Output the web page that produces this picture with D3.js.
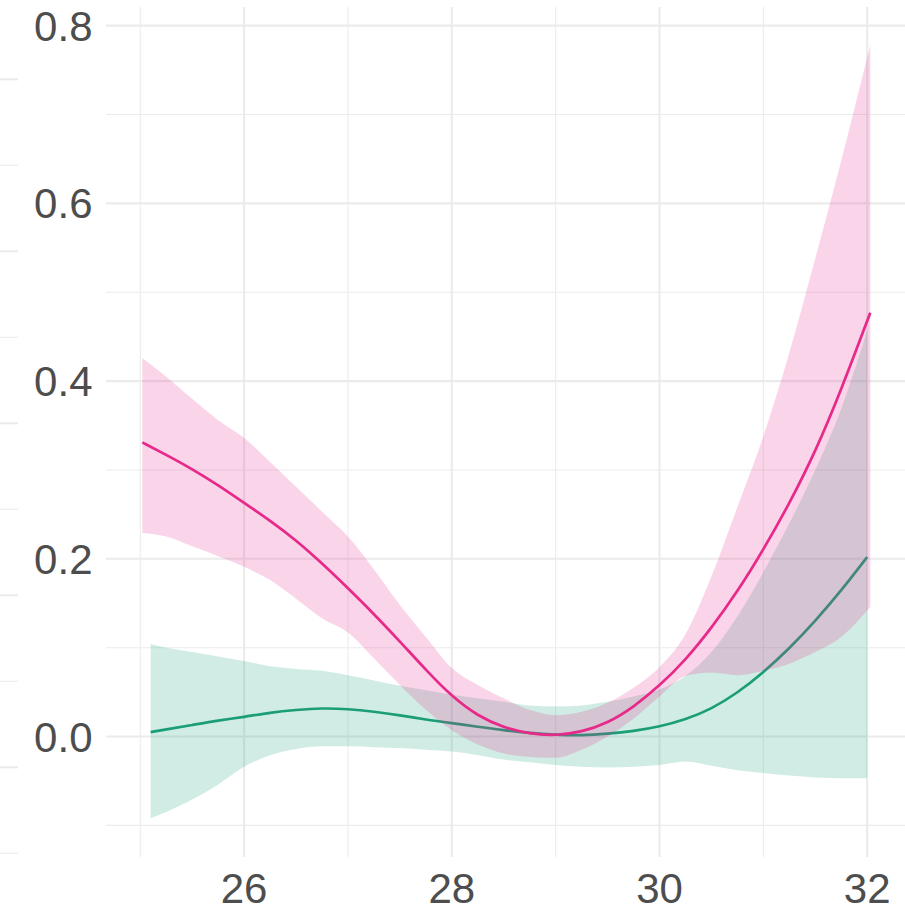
<!DOCTYPE html>
<html>
<head>
<meta charset="utf-8">
<script src="https://cdn.jsdelivr.net/npm/d3@7"></script>
<style>
  html, body { margin: 0; padding: 0; background: #ffffff; }
  svg { display: block; }
</style>
</head>
<body>
<script>
// ---------- data ----------
const xTicksMajor = [26, 28, 30, 32];
const xTicksMinor = [25, 27, 29, 31];
const yTicksMajor = [0.0, 0.2, 0.4, 0.6, 0.8];
const yTicksMinor = [-0.1, 0.1, 0.3, 0.5, 0.7];
const yTickLabels = ["0.0", "0.2", "0.4", "0.6", "0.8"];
const xTickLabels = ["26", "28", "30", "32"];

// magenta series
const xPink = [25.02, 25.25, 25.5, 25.75, 26.0, 26.25, 26.5, 26.75, 27.0, 27.25, 27.5, 27.75, 28.0, 28.25, 28.5, 28.75, 29.0, 29.25, 29.5, 29.75, 30.0, 30.25, 30.5, 30.75, 31.0, 31.25, 31.5, 31.75, 32.03];
const fitPink = [0.331, 0.317, 0.301, 0.283, 0.263, 0.243, 0.221, 0.195, 0.167, 0.138, 0.107, 0.075, 0.045, 0.023, 0.010, 0.003, 0.001, 0.005, 0.015, 0.033, 0.057, 0.086, 0.122, 0.163, 0.210, 0.262, 0.320, 0.390, 0.477];
const upperPink = [0.426, 0.405, 0.380, 0.356, 0.336, 0.309, 0.281, 0.253, 0.225, 0.188, 0.148, 0.112, 0.077, 0.058, 0.043, 0.030, 0.024, 0.028, 0.038, 0.055, 0.078, 0.115, 0.180, 0.258, 0.338, 0.432, 0.538, 0.648, 0.778];
const lowerPink = [0.229, 0.225, 0.214, 0.203, 0.191, 0.176, 0.155, 0.133, 0.117, 0.088, 0.058, 0.030, 0.007, -0.009, -0.019, -0.023, -0.024, -0.015, 0.000, 0.020, 0.045, 0.068, 0.072, 0.069, 0.074, 0.082, 0.095, 0.112, 0.146];

// green series
const xGreen = [25.1, 25.25, 25.5, 25.75, 26.0, 26.25, 26.5, 26.75, 27.0, 27.25, 27.5, 27.75, 28.0, 28.25, 28.5, 28.75, 29.0, 29.25, 29.5, 29.75, 30.0, 30.25, 30.5, 30.75, 31.0, 31.25, 31.5, 31.75, 32.0];
const fitGreen = [0.005, 0.008, 0.013, 0.018, 0.022, 0.027, 0.030, 0.032, 0.031, 0.028, 0.024, 0.019, 0.015, 0.011, 0.007, 0.004, 0.002, 0.001, 0.003, 0.006, 0.011, 0.019, 0.031, 0.049, 0.072, 0.099, 0.130, 0.164, 0.202];
const upperGreen = [0.104, 0.100, 0.095, 0.090, 0.085, 0.079, 0.076, 0.074, 0.069, 0.063, 0.057, 0.052, 0.047, 0.043, 0.039, 0.035, 0.034, 0.035, 0.039, 0.045, 0.053, 0.068, 0.095, 0.135, 0.185, 0.240, 0.300, 0.369, 0.457];
const lowerGreen = [-0.092, -0.085, -0.071, -0.054, -0.034, -0.021, -0.014, -0.011, -0.011, -0.012, -0.013, -0.015, -0.017, -0.021, -0.026, -0.029, -0.032, -0.034, -0.035, -0.034, -0.032, -0.028, -0.033, -0.038, -0.041, -0.044, -0.046, -0.047, -0.047];

// neighbouring panel grid stubs (left edge, cropped)
const ghostTicks = [0, 1, 2, 3, 4, 5, 6, 7, 8, 9];

// ---------- layout ----------
const W = 905, H = 907;
const panel = { left: 106, right: 905.6, top: 7, bottom: 857 };

const x = d3.scaleLinear().domain([24.67, 32.37]).range([panel.left, panel.right]);
const y = d3.scaleLinear().domain([-0.1356, 0.821]).range([panel.bottom, panel.top]);
const ghostY = d3.scaleLinear().domain([0, 9]).range([79.3, 853.3]);

const svg = d3.select("body").append("svg")
  .attr("width", W).attr("height", H)
  .style("font-family", "'Liberation Sans', Arial, sans-serif");

const gridCol = "#ebebeb";

// ghost stubs
svg.append("g").selectAll("line").data(ghostTicks).join("line")
  .attr("x1", 0).attr("x2", 18)
  .attr("y1", d => ghostY(d)).attr("y2", d => ghostY(d))
  .attr("stroke", gridCol)
  .attr("stroke-width", d => d % 2 === 0 ? 2.1 : 1.05);

// grid
const grid = svg.append("g");
grid.selectAll(".hmin").data(yTicksMinor).join("line")
  .attr("x1", panel.left).attr("x2", W)
  .attr("y1", d => y(d)).attr("y2", d => y(d))
  .attr("stroke", gridCol).attr("stroke-width", 1.05);
grid.selectAll(".vmin").data(xTicksMinor).join("line")
  .attr("y1", panel.top).attr("y2", panel.bottom)
  .attr("x1", d => x(d)).attr("x2", d => x(d))
  .attr("stroke", gridCol).attr("stroke-width", 1.05);
grid.selectAll(".hmaj").data(yTicksMajor).join("line")
  .attr("x1", panel.left).attr("x2", W)
  .attr("y1", d => y(d)).attr("y2", d => y(d))
  .attr("stroke", gridCol).attr("stroke-width", 2.1);
grid.selectAll(".vmaj").data(xTicksMajor).join("line")
  .attr("y1", panel.top).attr("y2", panel.bottom)
  .attr("x1", d => x(d)).attr("x2", d => x(d))
  .attr("stroke", gridCol).attr("stroke-width", 2.1);

// series
const series = [
  { xs: xGreen, fit: fitGreen, lo: lowerGreen, hi: upperGreen, col: "#1b9e77" },
  { xs: xPink, fit: fitPink, lo: lowerPink, hi: upperPink, col: "#e7298a" }
];

const area = d3.area()
  .x(d => x(d.x)).y0(d => y(d.lo)).y1(d => y(d.hi))
  .curve(d3.curveMonotoneX);
const line = d3.line()
  .x(d => x(d.x)).y(d => y(d.f))
  .curve(d3.curveBasis);

series.forEach(s => {
  const pts = s.xs.map((xv, i) => ({ x: xv, f: s.fit[i], lo: s.lo[i], hi: s.hi[i] }));
  svg.append("path").datum(pts)
    .attr("d", area)
    .attr("fill", s.col).attr("fill-opacity", 0.2);
  svg.append("path").datum(pts)
    .attr("d", line)
    .attr("fill", "none").attr("stroke", s.col).attr("stroke-width", 2.7);
});

// tick labels
const txtCol = "#4d4d4d";
svg.append("g").selectAll("text").data(yTicksMajor).join("text")
  .attr("x", 92.5)
  .attr("y", d => y(d) + 15)
  .attr("text-anchor", "end")
  .attr("fill", txtCol)
  .attr("font-size", 42)
  .text((d, i) => yTickLabels[i]);

svg.append("g").selectAll("text").data(xTicksMajor).join("text")
  .attr("x", d => x(d))
  .attr("y", 903)
  .attr("text-anchor", "middle")
  .attr("fill", txtCol)
  .attr("font-size", 42)
  .text((d, i) => xTickLabels[i]);
</script>
</body>
</html>
